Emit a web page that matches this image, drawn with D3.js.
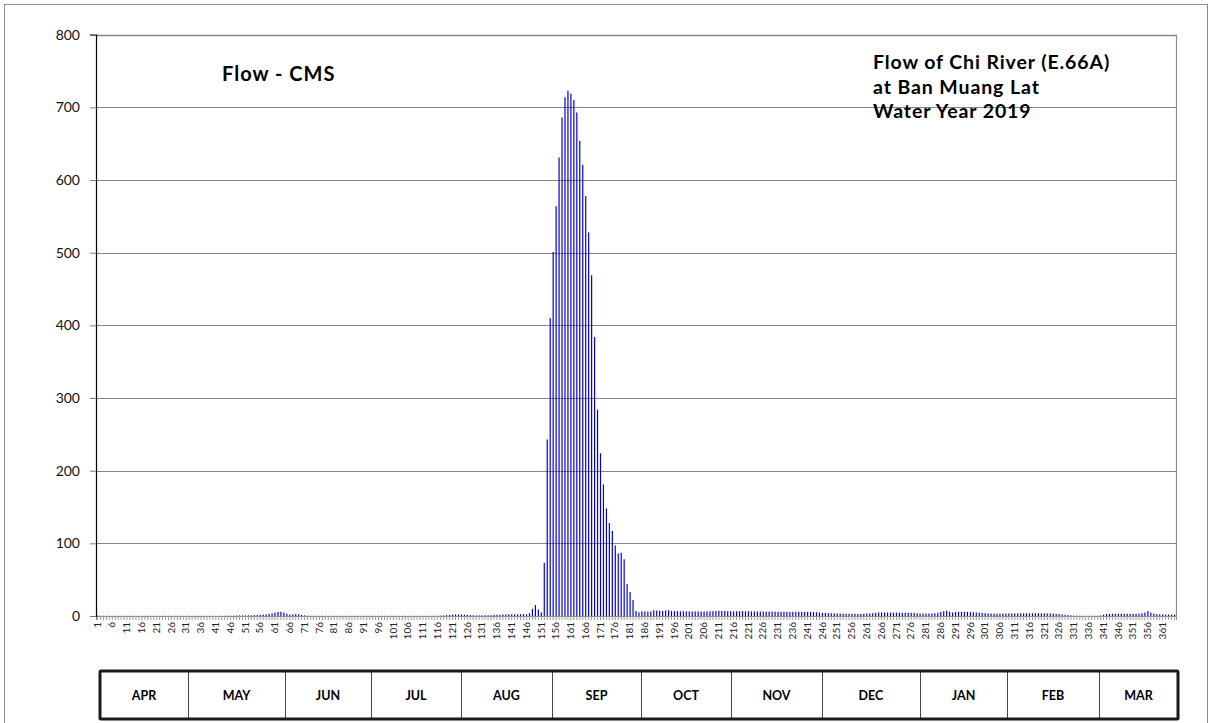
<!DOCTYPE html>
<html>
<head>
<meta charset="utf-8">
<script src="https://cdn.jsdelivr.net/npm/d3@7"></script>
<style>
  html, body { margin: 0; padding: 0; background: #fff; }
  svg { display: block; }
</style>
</head>
<body>
<svg id="chart" width="1212" height="723"></svg>
<script>
// ---------------- DATA ----------------
const days = d3.range(1, 366); // day of water year (category labels 1..365)

const flowCMS = [
  0.8,0.4,0.4,0.3,0.3,0.3,0.3,0.3,0.3,0.3,
  0.3,0.3,0.3,0.3,0.3,0.3,0.3,0.3,0.3,0.3,
  0.3,0.3,0.3,0.3,0.3,0.3,0.3,0.3,0.3,0.3,
  0.3,0.3,0.3,0.3,0.3,0.3,0.3,0.3,0.3,0.3,
  0.3,0.3,0.3,0.4,0.4,0.5,0.6,0.7,0.8,0.8,
  0.9,1.0,1.0,1.2,1.3,1.6,1.9,2.2,2.8,3.6,
  4.6,5.6,5.8,4.8,3.2,2.1,2.3,2.6,2.3,1.5,
  0.9,0.5,0.4,0.4,0.3,0.3,0.3,0.3,0.3,0.3,
  0.3,0.3,0.3,0.3,0.3,0.3,0.3,0.3,0.3,0.3,
  0.3,0.3,0.3,0.3,0.3,0.3,0.3,0.3,0.3,0.3,
  0.3,0.3,0.3,0.3,0.3,0.3,0.3,0.3,0.3,0.3,
  0.3,0.3,0.3,0.3,0.4,0.5,0.6,0.8,1.2,1.6,
  2.0,2.1,2.0,2.1,1.9,1.6,1.2,1.0,0.9,0.9,
  1.0,1.0,1.1,1.2,1.4,1.6,1.8,2.0,2.2,2.4,
  2.5,2.3,2.4,2.5,2.6,2.3,3.7,10,15,9,
  5,73,243,410,501,564,631,686,714,723,
  719,710,693,654,621,578,528,469,384,284,
  224,181,148,128,117,97,86,87,78,44,
  33,22,7,5,6.3,6.3,6.0,6.3,8.0,7.5,
  7.2,7.0,7.5,8.0,7.2,6.8,6.6,6.5,6.5,6.3,
  6.2,6.2,6.3,6.2,6.1,6.2,6.4,6.5,6.6,7.0,
  7.2,7.0,6.8,6.6,6.5,6.4,6.5,6.6,6.5,6.4,
  6.5,6.4,6.3,6.3,6.2,6.1,6.1,6.0,6.0,5.9,
  5.9,5.8,5.8,5.8,5.7,5.7,5.8,5.8,5.7,5.6,
  5.6,5.5,5.4,5.2,4.8,4.4,4.1,3.9,3.8,3.6,
  3.5,3.4,3.2,3.1,3.0,3.0,2.9,2.9,3.0,3.2,
  3.4,3.6,3.9,4.4,4.8,5.0,4.9,4.8,4.7,4.7,
  4.6,4.6,4.5,4.5,4.4,4.4,4.3,3.8,3.4,3.3,
  3.3,3.4,3.5,3.8,4.4,5.6,6.6,7.2,5.8,4.8,
  5.4,5.6,5.7,5.6,5.5,5.4,5.2,4.9,4.5,4.1,
  3.8,3.6,3.4,3.3,3.2,3.2,3.3,3.4,3.5,3.5,
  3.5,3.6,3.6,3.7,3.7,3.7,3.8,3.8,3.8,3.7,
  3.7,3.6,3.5,3.3,3.0,2.6,2.1,1.6,1.2,0.9,
  0.7,0.5,0.4,0.4,0.3,0.3,0.3,0.3,0.4,0.8,
  1.8,2.6,3.0,3.1,3.2,3.2,3.1,3.0,3.0,3.0,
  2.9,3.0,3.2,3.6,4.8,6.8,4.6,3.2,2.5,2.2,
  2.1,2.0,2.0,2.0,2.0
];

const yTicks = [0, 100, 200, 300, 400, 500, 600, 700, 800];
const xTickDays = days.filter((d, i) => i % 5 === 0);

const months = ["APR","MAY","JUN","JUL","AUG","SEP","OCT","NOV","DEC","JAN","FEB","MAR"];

const titleLeft = "Flow - CMS";
const titleRight = ["Flow of Chi River (E.66A)", "at Ban Muang Lat", "Water Year 2019"];

// ---------------- LAYOUT ----------------
const W = 1212, H = 723;
const plot = { left: 96, right: 1176, top: 34.7, bottom: 616 };
const monthEdges = [100, 188, 285, 371, 461, 552, 641, 731, 822, 920, 1007, 1099, 1178];
const table = { top: 671, bottom: 719 };
const FONT = "Lato, 'Open Sans', sans-serif";

const svg = d3.select("#chart");

// outer chart frame
svg.append("rect")
  .attr("x", 4.5).attr("y", 4.5)
  .attr("width", 1203).attr("height", 740)
  .attr("fill", "none").attr("stroke", "#8c8c8c").attr("stroke-width", 1);

const x = d3.scaleBand()
  .domain(days)
  .range([plot.left, plot.right])
  .paddingInner(0.6)
  .paddingOuter(0.3);

const y = d3.scaleLinear()
  .domain([0, 800])
  .range([plot.bottom, plot.top]);

// gridlines
svg.append("g")
  .selectAll("line")
  .data(yTicks.filter(t => t > 0))
  .join("line")
  .attr("x1", plot.left).attr("x2", plot.right)
  .attr("y1", d => Math.round(y(d)) + 0.5)
  .attr("y2", d => Math.round(y(d)) + 0.5)
  .attr("stroke", "#868686")
  .attr("stroke-width", d => d === 800 ? 1.6 : 1);

// right plot border
svg.append("line")
  .attr("x1", plot.right + 0.5).attr("x2", plot.right + 0.5)
  .attr("y1", y(800)).attr("y2", plot.bottom)
  .attr("stroke", "#8c8c8c").attr("stroke-width", 1.2);

// bars
svg.append("g")
  .selectAll("rect")
  .data(days)
  .join("rect")
  .attr("x", d => x(d))
  .attr("width", x.bandwidth())
  .attr("y", (d, i) => y(flowCMS[i]))
  .attr("height", (d, i) => y(0) - y(flowCMS[i]))
  .attr("fill", "#0000d8");

// x axis: dense category ticks
const xAxisTicks = d3.axisBottom(x).tickValues(days).tickSize(4).tickFormat("");
const gxt = svg.append("g")
  .attr("transform", `translate(0,${plot.bottom})`)
  .call(xAxisTicks);
gxt.select(".domain").attr("stroke", "#8c8c8c");
gxt.selectAll(".tick line").attr("stroke", "#9a9a9a");

// x axis labels every 5th day
const xAxisLabels = d3.axisBottom(x).tickValues(xTickDays).tickSize(0);
const gxl = svg.append("g")
  .attr("transform", `translate(0,${plot.bottom})`)
  .call(xAxisLabels);
gxl.select(".domain").remove();
gxl.selectAll(".tick text")
  .attr("font-family", FONT)
  .attr("font-size", 10)
  .attr("fill", "#222")
  .attr("text-anchor", "end")
  .attr("dy", "0.32em")
  .attr("transform", "translate(0,6) rotate(-90)")
  .attr("x", 0).attr("y", 0);

// y axis
const yAxis = d3.axisLeft(y).tickValues(yTicks).tickSize(6).tickPadding(10).tickFormat(d3.format("d"));
const gy = svg.append("g")
  .attr("transform", `translate(${plot.left},0)`)
  .call(yAxis);
gy.select(".domain").attr("stroke", "#000").attr("stroke-width", 1.2);
gy.selectAll(".tick line").attr("stroke", "#7a7a7a");
gy.selectAll(".tick text")
  .attr("font-family", FONT)
  .attr("font-size", 14)
  .attr("fill", "#111");

// titles
svg.append("text")
  .attr("x", 222).attr("y", 81)
  .attr("font-family", FONT).attr("font-weight", "bold")
  .attr("font-size", 20).attr("letter-spacing", 1).attr("fill", "#000")
  .text(titleLeft);

svg.append("g")
  .selectAll("text")
  .data(titleRight)
  .join("text")
  .attr("x", 873)
  .attr("y", (d, i) => 69 + i * 24.5)
  .attr("font-family", FONT).attr("font-weight", "bold")
  .attr("font-size", 19.5).attr("letter-spacing", 0.9).attr("fill", "#000")
  .text(d => d);

// month table
const tg = svg.append("g");
tg.selectAll("line.div")
  .data(monthEdges.slice(1, -1))
  .join("line")
  .attr("class", "div")
  .attr("x1", d => d + 0.5).attr("x2", d => d + 0.5)
  .attr("y1", table.top).attr("y2", table.bottom)
  .attr("stroke", "#444").attr("stroke-width", 1);
tg.append("rect")
  .attr("x", monthEdges[0]).attr("y", table.top)
  .attr("width", monthEdges[monthEdges.length - 1] - monthEdges[0])
  .attr("height", table.bottom - table.top)
  .attr("fill", "none").attr("stroke", "#1a1a1a").attr("stroke-width", 3)
  .attr("rx", 1);
tg.selectAll("text")
  .data(months)
  .join("text")
  .attr("x", (d, i) => (monthEdges[i] + monthEdges[i + 1]) / 2)
  .attr("y", (table.top + table.bottom) / 2 + 5)
  .attr("text-anchor", "middle")
  .attr("font-family", FONT).attr("font-weight", "bold")
  .attr("font-size", 12.5).attr("fill", "#000")
  .text(d => d);
</script>
</body>
</html>
